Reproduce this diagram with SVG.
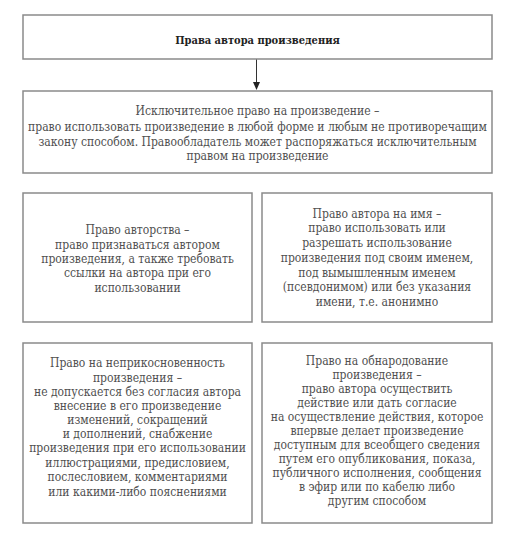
<svg xmlns="http://www.w3.org/2000/svg" width="515" height="539" viewBox="0 0 515 539">
<style>
.box{fill:#fff;stroke:#8a8a8a;stroke-width:1.5}
text{font-family:'DejaVu Serif Condensed', 'DejaVu Serif', serif;font-stretch:condensed;font-size:12px;fill:#505050;text-anchor:middle}
.b{font-weight:bold;fill:#222;font-size:11px}
</style>
<rect width="515" height="539" fill="#fff"/>
<g id="connectors">
<line x1="256.5" y1="59" x2="256.5" y2="84" stroke="#333" stroke-width="1"/>
<path d="M253,82 L260,82 L256.5,90 Z" fill="#222"/>
</g>
<g id="n1">
<rect class="box" x="23" y="15" width="469" height="44"/>
<text class="b" x="257.5" y="44">Права автора произведения</text>
</g>
<g id="n2">
<rect class="box" x="23" y="91" width="469" height="82"/>
<text x="257.5" y="115">Исключительное право на произведение –</text>
<text x="257.5" y="131">право использовать произведение в любой форме и любым не противоречащим</text>
<text x="257.5" y="146">закону способом. Правообладатель может распоряжаться исключительным</text>
<text x="257.5" y="160">правом на произведение</text>
</g>
<g id="n3">
<rect class="box" x="23" y="193" width="229" height="129"/>
<text x="137.5" y="234">Право авторства –</text>
<text x="137.5" y="249">право признаваться автором</text>
<text x="137.5" y="263">произведения, а также требовать</text>
<text x="137.5" y="277">ссылки на автора при его</text>
<text x="137.5" y="292">использовании</text>
</g>
<g id="n4">
<rect class="box" x="262" y="193" width="230" height="129"/>
<text x="377" y="218">Право автора на имя –</text>
<text x="377" y="232">право использовать или</text>
<text x="377" y="247">разрешать использование</text>
<text x="377" y="262">произведения под своим именем,</text>
<text x="377" y="277">под вымышленным именем</text>
<text x="377" y="291">(псевдонимом) или без указания</text>
<text x="377" y="306">имени, т.е. анонимно</text>
</g>
<g id="n5">
<rect class="box" x="23" y="343" width="229" height="180"/>
<text x="137.5" y="367">Право на неприкосновенность</text>
<text x="137.5" y="382">произведения –</text>
<text x="137.5" y="396">не допускается без согласия автора</text>
<text x="137.5" y="410">внесение в его произведение</text>
<text x="137.5" y="424">изменений, сокращений</text>
<text x="137.5" y="438">и дополнений, снабжение</text>
<text x="137.5" y="452">произведения при его использовании</text>
<text x="137.5" y="467">иллюстрациями, предисловием,</text>
<text x="137.5" y="481">послесловием, комментариями</text>
<text x="137.5" y="496">или какими-либо пояснениями</text>
</g>
<g id="n6">
<rect class="box" x="262" y="343" width="230" height="180"/>
<text x="377" y="365">Право на обнародование</text>
<text x="377" y="379">произведения –</text>
<text x="377" y="393">право автора осуществить</text>
<text x="377" y="407">действие или дать согласие</text>
<text x="377" y="421">на осуществление действия, которое</text>
<text x="377" y="435">впервые делает произведение</text>
<text x="377" y="449">доступным для всеобщего сведения</text>
<text x="377" y="463">путем его опубликования, показа,</text>
<text x="377" y="477">публичного исполнения, сообщения</text>
<text x="377" y="491">в эфир или по кабелю либо</text>
<text x="377" y="505">другим способом</text>
</g>
</svg>
